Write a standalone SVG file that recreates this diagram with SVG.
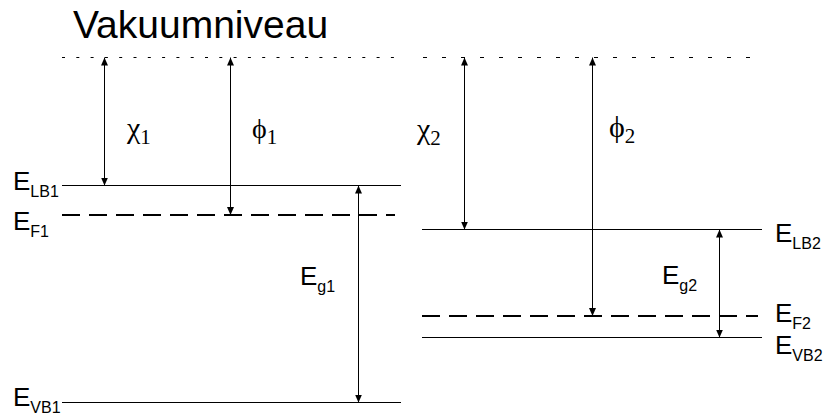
<svg xmlns="http://www.w3.org/2000/svg" width="827" height="417" viewBox="0 0 827 417">
<defs>
<marker id="ah" markerUnits="userSpaceOnUse" markerWidth="8" markerHeight="7" refX="8" refY="3.5" orient="auto-start-reverse">
<path d="M0,0 L8,3.5 L0,7 z" fill="#000"/>
</marker>
<style>
.lvl{stroke:#000;stroke-width:1;fill:none}
.fermi{stroke:#000;stroke-width:2;stroke-dasharray:18 9;fill:none}
.vac{stroke:#000;stroke-width:1;fill:none}
.arr{stroke:#000;stroke-width:1;fill:none;marker-start:url(#ah);marker-end:url(#ah)}
.lab{font-family:"Liberation Sans",Arial,sans-serif;font-size:26px;fill:#000}
.sub{font-size:16px}
.gr{font-family:"Liberation Serif","Times New Roman",serif;fill:#000}
.title{font-family:"Liberation Sans",Arial,sans-serif;font-size:39px;fill:#000}
</style>
</defs>
<rect width="827" height="417" fill="#fff"/>
<g id="vakuum">
<text class="title" x="73" y="38">Vakuumniveau</text>
<line class="vac" x1="62" y1="57.5" x2="402" y2="57.5" stroke-dasharray="3 11.3"/>
<line class="vac" x1="423" y1="57.5" x2="758" y2="57.5" stroke-dasharray="4 15"/>
</g>
<g id="levels1">
<line id="ELB1" class="lvl" x1="62" y1="185.5" x2="401" y2="185.5"/>
<line id="EF1" class="fermi" x1="62" y1="215" x2="395" y2="215"/>
<line id="EVB1" class="lvl" x1="62" y1="402.5" x2="401" y2="402.5"/>
</g>
<g id="levels2">
<line id="ELB2" class="lvl" x1="422" y1="229.5" x2="762" y2="229.5"/>
<line id="EF2" class="fermi" x1="422" y1="316" x2="758" y2="316"/>
<line id="EVB2" class="lvl" x1="422" y1="337.5" x2="762" y2="337.5"/>
</g>
<g id="connectors">
<line class="arr" x1="104.5" y1="57.5" x2="104.5" y2="185.5"/>
<line class="arr" x1="230.5" y1="57.5" x2="230.5" y2="215"/>
<line class="arr" x1="358.5" y1="185.5" x2="358.5" y2="402.5"/>
<line class="arr" x1="464.5" y1="57.5" x2="464.5" y2="229.5"/>
<line class="arr" x1="592.5" y1="57.5" x2="592.5" y2="316"/>
<line class="arr" x1="719.5" y1="229.5" x2="719.5" y2="337.5"/>
</g>
<g id="labels">
<text class="lab" x="13" y="190">E<tspan class="sub" dy="7">LB1</tspan></text>
<text class="lab" x="13" y="230">E<tspan class="sub" dy="7">F1</tspan></text>
<text class="lab" x="13" y="406">E<tspan class="sub" dy="7">VB1</tspan></text>
<text class="lab" x="300" y="285">E<tspan class="sub" dy="7">g1</tspan></text>
<text class="lab" x="775" y="242">E<tspan class="sub" dy="7">LB2</tspan></text>
<text class="lab" x="775" y="322">E<tspan class="sub" dy="7">F2</tspan></text>
<text class="lab" x="775" y="354">E<tspan class="sub" dy="7">VB2</tspan></text>
<text class="lab" x="662" y="284">E<tspan class="sub" dy="7">g2</tspan></text>
</g>
<g id="greek">
<text class="gr" x="127" y="138" font-size="30">χ<tspan font-size="21" dy="6">1</tspan></text>
<text class="gr" x="252" y="138" font-size="28">ϕ<tspan font-size="21" dy="6">1</tspan></text>
<text class="gr" x="417" y="139" font-size="30">χ<tspan font-size="21" dy="6">2</tspan></text>
<text class="gr" x="609" y="137" font-size="30">ϕ<tspan font-size="21" dy="6">2</tspan></text>
</g>
</svg>
